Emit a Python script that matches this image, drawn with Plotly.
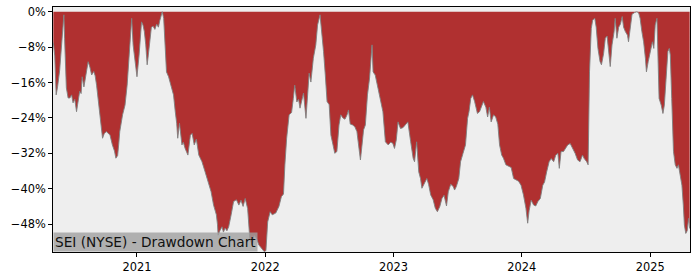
import plotly.graph_objects as go

# Drawdown (%)
d2020 = ["2020-05-08","2020-05-12","2020-05-16","2020-05-20","2020-05-26","2020-05-31","2020-06-04","2020-06-07",
         "2020-06-09","2020-06-14","2020-06-19","2020-06-24","2020-06-29","2020-07-03","2020-07-08","2020-07-13",
         "2020-07-16","2020-07-22","2020-07-26","2020-07-29","2020-08-03","2020-08-08","2020-08-15","2020-08-20",
         "2020-08-25","2020-08-31","2020-09-04","2020-09-08","2020-09-13","2020-09-17","2020-09-21","2020-09-25",
         "2020-09-30","2020-10-06","2020-10-11","2020-10-16","2020-10-23","2020-10-29","2020-11-02","2020-11-07",
         "2020-11-10","2020-11-13","2020-11-21","2020-11-28","2020-12-04","2020-12-09","2020-12-12","2020-12-17",
         "2020-12-21","2020-12-26","2020-12-29"]
v2020 = [-7,-10,-18.8,-17,-13.2,-7.3,-3,-0.7,
         -6,-17.2,-19.5,-19.5,-18.8,-20.6,-19.8,-22.6,
         -21,-18,-18.5,-14.7,-17,-14.5,-11.3,-12.5,
         -14.3,-13.5,-14.5,-16.6,-20,-23.3,-26.5,-28.6,
         -27.5,-27.1,-27.5,-27.8,-30.1,-31.5,-33.1,-32.5,
         -30,-27.1,-23.3,-21.1,-16.6,-10.5,-6,-1.5,
         -7.5,-11,-13.6]

d2021 = ["2021-01-01","2021-01-07","2021-01-11","2021-01-14","2021-01-18","2021-01-22","2021-01-26","2021-01-30",
         "2021-02-02","2021-02-07","2021-02-11","2021-02-16","2021-02-21","2021-02-26","2021-03-03","2021-03-07",
         "2021-03-11","2021-03-14","2021-03-18","2021-03-22","2021-03-26","2021-04-01","2021-04-06","2021-04-10",
         "2021-04-15","2021-04-20","2021-04-24","2021-04-27","2021-05-02","2021-05-09","2021-05-13","2021-05-18",
         "2021-05-26","2021-06-02","2021-06-07","2021-06-13","2021-06-19","2021-06-26","2021-07-05","2021-07-14",
         "2021-07-19","2021-07-24","2021-07-31","2021-08-07","2021-08-15","2021-08-18","2021-08-20","2021-08-25",
         "2021-08-31","2021-09-04","2021-09-09","2021-09-14","2021-09-19","2021-09-26","2021-10-03","2021-10-11",
         "2021-10-18","2021-10-24","2021-10-30","2021-11-05","2021-11-12","2021-11-18","2021-11-25","2021-12-01",
         "2021-12-07","2021-12-14","2021-12-23","2021-12-29"]
v2021 = [-14.7,-9.8,-6,-2.3,-3,-4.5,-7.5,-12,
         -10,-6.8,-3.5,-3.3,-4,-2.8,-3.5,-2,
         -1,0,-1.5,-8.3,-13.6,-14.7,-16,-17.3,
         -18.8,-22.6,-25.2,-28.6,-25.2,-30.1,-29.5,-30.9,
         -32.4,-27.9,-27.5,-30.1,-28.8,-32.4,-33.9,-36.2,
         -37.5,-39.2,-40.7,-43.7,-45.9,-48,-50.5,-49.5,
         -48.6,-49.8,-48.9,-49.5,-48.6,-45.9,-42.9,-42.5,
         -43.7,-42.6,-44,-42.2,-44.5,-51.2,-52.7,-50.5,
         -51.2,-52.7,-53.5,-54.2]

d2022 = ["2022-01-03","2022-01-05","2022-01-08","2022-01-15","2022-01-21","2022-01-31","2022-02-09","2022-02-16",
         "2022-02-22","2022-02-26","2022-03-03","2022-03-10","2022-03-17","2022-03-22","2022-03-26","2022-04-01",
         "2022-04-06","2022-04-10","2022-04-15","2022-04-20","2022-04-27","2022-05-01","2022-05-06","2022-05-11",
         "2022-05-18","2022-05-25","2022-05-30","2022-06-06","2022-06-10","2022-06-16","2022-06-21","2022-06-26",
         "2022-07-02","2022-07-07","2022-07-13","2022-07-18","2022-07-24","2022-07-30","2022-08-04","2022-08-10",
         "2022-08-16","2022-08-22","2022-08-26","2022-08-31","2022-09-07","2022-09-13","2022-09-19","2022-09-25",
         "2022-09-29","2022-10-03","2022-10-08","2022-10-13","2022-10-19","2022-10-25","2022-10-29","2022-11-01",
         "2022-11-04","2022-11-10","2022-11-18","2022-11-25","2022-12-02","2022-12-09","2022-12-17","2022-12-24",
         "2022-12-30"]
v2022 = [-54,-51.2,-47.5,-45.2,-45.9,-45.5,-44,-41.8,
         -41.2,-34.6,-28.6,-23.3,-22.8,-19.6,-16.6,-20.4,
         -19.8,-21.8,-20.4,-18.4,-24.1,-18.2,-13.9,-15.9,
         -10.5,-7.5,-3,-0.7,-3.5,-9,-14.3,-20.3,
         -21,-27.9,-30.1,-32,-31.6,-25.6,-23.3,-24,
         -24.3,-23.3,-22.2,-25.4,-25.6,-26,-27.1,-31.6,
         -33.5,-30.5,-26.7,-25.6,-18.8,-15,-9,-7.5,
         -13.6,-14.3,-17.3,-20.3,-22.6,-29.4,-30.1,-29.5,
         -29.7]

d2023 = ["2023-01-04","2023-01-09","2023-01-14","2023-01-21","2023-01-28","2023-02-04","2023-02-11","2023-02-19",
         "2023-02-26","2023-03-02","2023-03-08","2023-03-14","2023-03-19","2023-03-23","2023-03-31","2023-04-06",
         "2023-04-11","2023-04-17","2023-04-24","2023-04-30","2023-05-06","2023-05-13","2023-05-19","2023-05-25",
         "2023-06-01","2023-06-06","2023-06-13","2023-06-20","2023-06-24","2023-06-29","2023-07-06","2023-07-11",
         "2023-07-18","2023-07-25","2023-07-31","2023-08-04","2023-08-09","2023-08-14","2023-08-20","2023-08-28",
         "2023-09-03","2023-09-07","2023-09-14","2023-09-21","2023-09-26","2023-10-01","2023-10-06","2023-10-13",
         "2023-10-19","2023-10-25","2023-10-30","2023-11-05","2023-11-10","2023-11-17","2023-11-25","2023-12-02",
         "2023-12-09","2023-12-15","2023-12-23","2023-12-30"]
v2023 = [-30.9,-29,-24.9,-26.4,-26.2,-25.5,-24.9,-29.4,
         -33.1,-33.9,-29.4,-36.2,-37.7,-39.9,-38.5,-37.7,
         -39,-41.4,-42.5,-44.4,-45.2,-44,-42.2,-41.5,
         -43.9,-40.7,-39,-39.5,-40.3,-39.5,-37.7,-33.9,
         -32,-30.1,-24.1,-22.6,-19.6,-18.8,-20.3,-23,
         -22.6,-21.6,-20.3,-21.6,-23.8,-21.6,-24.9,-23.3,
         -23.8,-25.4,-30.1,-32.4,-33.1,-34.6,-34.9,-35.2,
         -37.7,-38,-38.3,-39.2]

d2024 = ["2024-01-06","2024-01-13","2024-01-18","2024-01-22","2024-01-28","2024-02-04","2024-02-10","2024-02-16",
         "2024-02-23","2024-03-01","2024-03-06","2024-03-12","2024-03-19","2024-03-25","2024-04-01","2024-04-07",
         "2024-04-13","2024-04-17","2024-04-22","2024-04-29","2024-05-05","2024-05-11","2024-05-18","2024-05-25",
         "2024-06-01","2024-06-08","2024-06-15","2024-06-22","2024-06-27","2024-07-04","2024-07-08","2024-07-12",
         "2024-07-17","2024-07-21","2024-07-27","2024-07-31","2024-08-05","2024-08-11","2024-08-15","2024-08-21",
         "2024-08-26","2024-08-31","2024-09-04","2024-09-09","2024-09-14","2024-09-20","2024-09-23","2024-09-28",
         "2024-10-03","2024-10-08","2024-10-13","2024-10-17","2024-10-22","2024-10-28","2024-10-31","2024-11-05",
         "2024-11-10","2024-11-17","2024-11-24","2024-11-29","2024-12-03","2024-12-08","2024-12-13","2024-12-18",
         "2024-12-21","2024-12-26","2024-12-30"]
v2024 = [-41.4,-44.4,-47.8,-45,-42.6,-43.7,-43.9,-42.9,
         -42.2,-39.2,-38.5,-36.2,-33.9,-33.2,-33.9,-32.4,
         -32,-35.4,-31.6,-31.6,-30.9,-30.1,-29.8,-30.9,
         -32,-33.5,-33.9,-32.4,-33.2,-33.9,-34.6,-13.6,
         -3.8,-1.9,-1.5,-3.5,-8.3,-11.3,-12,-9.5,
         -6,-5.5,-9.5,-12.4,-7.5,-4.5,-1.5,-6,
         -3.5,-2.8,-1.1,-3.5,-4.5,-5.3,-6.8,-3.5,
         -0.6,-0.2,0,-0.3,-1.5,-4.5,-6.8,-10.5,
         -13.6,-11.3,-9.8]

d2025 = ["2025-01-03","2025-01-07","2025-01-11","2025-01-15","2025-01-20","2025-01-23","2025-01-26","2025-02-01",
         "2025-02-06","2025-02-10","2025-02-15","2025-02-20","2025-02-24","2025-02-27","2025-03-03","2025-03-08",
         "2025-03-13","2025-03-18","2025-03-22","2025-03-27","2025-04-01","2025-04-05","2025-04-08","2025-04-12",
         "2025-04-16","2025-04-20","2025-04-23"]
v2025 = [-7.5,-6.8,-8.3,-3,-1.5,-8.3,-19.6,-21.1,
         -23,-21.1,-14.3,-9,-8.3,-9.8,-19.6,-31.6,
         -34.6,-35.4,-34.6,-36.9,-39.2,-43.7,-48.2,-50.1,
         -49.5,-46.7,-49]

dates = d2020 + d2021 + d2022 + d2023 + d2024 + d2025
drawdown = v2020 + v2021 + v2022 + v2023 + v2024 + v2025

y_ticks = [0, -8, -16, -24, -32, -40, -48]
y_labels = ["0%", "\u22128%", "\u221216%", "\u221224%", "\u221232%", "\u221240%", "\u221248%"]
x_ticks = ["2021-01-01", "2022-01-01", "2023-01-01", "2024-01-01", "2025-01-01"]
x_labels = ["2021", "2022", "2023", "2024", "2025"]
title_text = "SEI (NYSE) - Drawdown Chart"

fig = go.Figure()
fig.add_trace(go.Scatter(x=dates, y=[0] * len(dates), mode="lines",
                         line=dict(width=0, color="rgba(0,0,0,0)"),
                         hoverinfo="skip", showlegend=False))
fig.add_trace(go.Scatter(x=dates, y=drawdown, mode="lines",
                         line=dict(width=1, color="rgba(128,128,128,0.9)"),
                         fill="tonexty", fillcolor="#B03030", showlegend=False))

font_family = "DejaVu Sans"
fig.update_layout(
    width=700, height=280,
    margin=dict(l=53, r=10, t=7, b=28, autoexpand=False),
    paper_bgcolor="white",
    plot_bgcolor="#EEEEEE",
    font=dict(family=font_family, size=11.4, color="#000000"),
    annotations=[dict(
        text=title_text, xref="paper", yref="paper", x=0, y=0,
        xanchor="left", yanchor="bottom", showarrow=False,
        font=dict(family=font_family, size=13.7, color="#111111"),
        bgcolor="rgba(160,160,160,0.8)", borderpad=1,
    )],
)
fig.update_xaxes(
    range=["2020-05-07", "2025-04-24"],
    tickvals=x_ticks, ticktext=x_labels, automargin=False,
    showgrid=False, zeroline=False,
    showline=True, linecolor="black", linewidth=1, mirror=True,
    ticks="outside", ticklen=4, tickcolor="black",
)
fig.update_yaxes(
    range=[-54.3, 1.06],
    tickvals=y_ticks, ticktext=y_labels, automargin=False,
    showgrid=False, zeroline=False,
    showline=True, linecolor="black", linewidth=1, mirror=True,
    ticks="outside", ticklen=4, tickcolor="black",
)

fig.write_html("out.html")
